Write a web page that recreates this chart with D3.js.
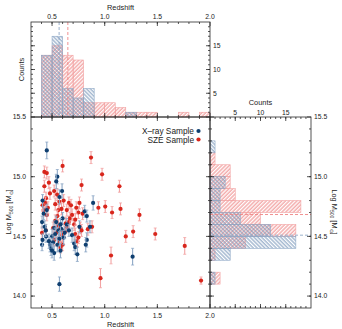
<!DOCTYPE html>
<html>
<head>
<meta charset="utf-8">
<script src="https://cdn.jsdelivr.net/npm/d3@7"></script>
<style>
  body { margin: 0; background: #fff; }
  text { font-family: "Liberation Sans", Arial, sans-serif; fill: #222; }
</style>
</head>
<body>
<svg id="chart" width="342" height="329"></svg>
<script>
// ---- data ----
// [redshift, log M500, error]
var xraySample = [
  [0.45,15.22,0.07],[0.55,15.00,0.06],[0.54,14.96,0.06],[0.595,14.88,0.06],[0.89,14.78,0.06],
  [0.45,14.72,0.05],[0.81,14.71,0.05],[0.83,14.67,0.05],[0.42,14.69,0.05],[0.405,14.62,0.05],
  [0.43,14.58,0.05],[0.60,14.65,0.05],[0.64,14.60,0.05],[0.52,14.57,0.06],[0.59,14.56,0.06],
  [0.443,14.50,0.05],[0.50,14.50,0.06],[0.61,14.49,0.06],[0.69,14.51,0.06],[0.83,14.47,0.06],
  [0.405,14.43,0.05],[0.48,14.43,0.06],[0.49,14.40,0.06],[0.55,14.43,0.06],[0.71,14.44,0.06],
  [0.72,14.41,0.06],[0.82,14.43,0.06],[0.74,14.35,0.06],[0.57,14.10,0.06],[1.265,14.33,0.07],
  [0.41,14.47,0.05],[0.62,14.53,0.05],[0.47,14.46,0.06],[0.51,14.45,0.06],[0.53,14.52,0.05],
  [0.56,14.55,0.05],[0.57,14.48,0.06],[0.58,14.38,0.06],[0.52,14.36,0.06],[0.50,14.38,0.06],
  [0.54,14.62,0.05],[0.58,14.60,0.05],[0.44,14.55,0.05],[0.76,14.58,0.05],[0.86,14.58,0.05],
  [0.66,14.55,0.05],[0.41,14.80,0.05],[0.57,14.83,0.06]
];
var szeSample = [
  [0.87,15.16,0.05],[0.60,15.09,0.05],[0.427,15.04,0.05],[0.45,15.03,0.05],[0.975,15.02,0.05],
  [0.427,14.92,0.05],[0.78,14.93,0.05],[1.14,14.92,0.05],[0.48,14.86,0.05],[0.443,14.82,0.05],
  [0.548,14.85,0.05],[0.437,14.78,0.05],[0.61,14.80,0.05],[0.66,14.78,0.05],[0.94,14.74,0.05],
  [1.005,14.75,0.05],[0.42,14.72,0.05],[0.56,14.72,0.05],[0.64,14.72,0.05],[0.75,14.70,0.05],
  [1.07,14.70,0.05],[1.33,14.68,0.05],[1.20,14.50,0.05],[1.27,14.54,0.05],[1.48,14.52,0.05],
  [1.06,14.34,0.07],[1.76,14.42,0.07],[1.915,14.13,0.03],[0.96,14.15,0.08],[0.405,14.53,0.05],
  [0.45,14.68,0.05],[0.58,14.56,0.05],[0.60,14.51,0.05],[0.63,14.61,0.05],[0.64,14.58,0.05],
  [0.66,14.62,0.05],[0.67,14.65,0.05],[0.69,14.68,0.05],[0.71,14.60,0.05],[0.72,14.64,0.05],
  [0.77,14.57,0.05],[0.79,14.69,0.05],[0.88,14.58,0.05],[0.60,14.43,0.05],[0.55,14.67,0.05],
  [0.47,14.95,0.05],[0.52,14.88,0.05],[0.41,14.76,0.05],[0.46,14.74,0.05],[0.53,14.77,0.05],
  [0.57,14.79,0.05],[0.59,14.73,0.05],[0.68,14.76,0.05],[0.73,14.74,0.05],[0.76,14.78,0.05],
  [1.15,14.73,0.05],[0.44,14.55,0.05],[0.51,14.57,0.05],[0.54,14.53,0.05],[0.56,14.59,0.05],
  [0.62,14.54,0.05],[0.72,14.52,0.05],[0.78,14.55,0.05],[0.84,14.56,0.05],[0.52,14.47,0.05],
  [0.57,14.45,0.05],[0.58,14.41,0.05],[0.74,14.46,0.05],[0.75,14.49,0.05],[0.53,14.63,0.05]
];

// redshift histogram, bins of 0.1 from 0.4
var zBinStart = 0.4, zBinWidth = 0.1;
var zCountsSZE  = [13,15,13,12,3,3,3,2,1,1,1,0,0,1,0,1];
var zCountsXray = [13,17,6,4,6,0,0,0,1,0,0,0,0,0,0,0];
// mass histogram, bins of 0.1 from 14.1
var mBinStart = 14.1, mBinWidth = 0.1;
var mCountsSZE  = [2,0,1,7,17,10,18,5,4,4,1,0];
var mCountsXray = [1,0,4,17,12,6,2,2,3,0,0,1];
// medians (dashed lines)
var medZXray = 0.567, medZSZE = 0.65;
var medMXray = 14.51, medMSZE = 14.683;

var zTicks = [0.5, 1.0, 1.5, 2.0];
var mTicks = [14.0, 14.5, 15.0, 15.5];
var countTicks = [5, 10, 15];

// ---- layout ----
var L = 31, R = 210, T = 117, B = 308, topY = 22, RR = 311;
var blue = "#0f3f70", blueLight = "#8ea8c6", blueHatch = "#7896ba";
var red = "#d8261c", redLight = "#f2a3a3", redHatch = "#ee8585";
var axisCol = "#2a2a2a";

var svg = d3.select("#chart");

var x = d3.scaleLinear().domain([0.3, 2.0]).range([L, R]);
var y = d3.scaleLinear().domain([13.9, 15.5]).range([B, T]);
var cTop = d3.scaleLinear().domain([0, 20]).range([T, topY]);
var cRight = d3.scaleLinear().domain([0, 20]).range([R, RR]);

// hatch patterns
var defs = svg.append("defs");
function hatch(id, col, angle) {
  var p = defs.append("pattern").attr("id", id)
    .attr("patternUnits", "userSpaceOnUse").attr("width", 2.7).attr("height", 2.7)
    .attr("patternTransform", "rotate(" + angle + ")");
  p.append("line").attr("x1", 1).attr("x2", 1).attr("y1", 0).attr("y2", 2.7)
    .attr("stroke", col).attr("stroke-width", 1);
}
hatch("hRed", redHatch, 45);
hatch("hBlue", blueHatch, -45);

// ---- top histogram ----
var gTop = svg.append("g");
function topBars(counts, pat, col) {
  gTop.selectAll(null).data(counts.map(function(c, i) { return {i: i, c: c}; }).filter(function(d) { return d.c > 0; }))
    .enter().append("rect")
    .attr("x", function(d) { return x(zBinStart + d.i * zBinWidth); })
    .attr("width", function(d) { return x(zBinStart + (d.i + 1) * zBinWidth) - x(zBinStart + d.i * zBinWidth); })
    .attr("y", function(d) { return cTop(d.c); })
    .attr("height", function(d) { return cTop(0) - cTop(d.c); })
    .attr("fill", "url(#" + pat + ")")
    .attr("stroke", col).attr("stroke-width", 0.6);
}
topBars(zCountsSZE, "hRed", redLight);
topBars(zCountsXray, "hBlue", blueLight);
gTop.append("line").attr("x1", x(medZXray)).attr("x2", x(medZXray)).attr("y1", topY).attr("y2", T)
  .attr("stroke", blueLight).attr("stroke-dasharray", "3,2").attr("stroke-width", 0.9);
gTop.append("line").attr("x1", x(medZSZE)).attr("x2", x(medZSZE)).attr("y1", topY).attr("y2", T)
  .attr("stroke", redHatch).attr("stroke-dasharray", "3,2").attr("stroke-width", 0.9);

// ---- right histogram ----
var gRight = svg.append("g");
function rightBars(counts, pat, col) {
  gRight.selectAll(null).data(counts.map(function(c, i) { return {i: i, c: c}; }).filter(function(d) { return d.c > 0; }))
    .enter().append("rect")
    .attr("y", function(d) { return y(mBinStart + (d.i + 1) * mBinWidth); })
    .attr("height", function(d) { return y(mBinStart + d.i * mBinWidth) - y(mBinStart + (d.i + 1) * mBinWidth); })
    .attr("x", cRight(0))
    .attr("width", function(d) { return cRight(d.c) - cRight(0); })
    .attr("fill", "url(#" + pat + ")")
    .attr("stroke", col).attr("stroke-width", 0.6);
}
rightBars(mCountsSZE, "hRed", redLight);
rightBars(mCountsXray, "hBlue", blueLight);
gRight.append("line").attr("y1", y(medMSZE)).attr("y2", y(medMSZE)).attr("x1", R).attr("x2", RR)
  .attr("stroke", redHatch).attr("stroke-dasharray", "3,2").attr("stroke-width", 0.9);
gRight.append("line").attr("y1", y(medMXray)).attr("y2", y(medMXray)).attr("x1", R).attr("x2", RR)
  .attr("stroke", blueLight).attr("stroke-dasharray", "3,2").attr("stroke-width", 0.9);

// ---- scatter ----
var gPts = svg.append("g");
function scatter(data, col, light) {
  var g = gPts.append("g");
  var e = g.selectAll(null).data(data).enter().append("g");
  e.append("line").attr("x1", function(d) { return x(d[0]); }).attr("x2", function(d) { return x(d[0]); })
    .attr("y1", function(d) { return y(d[1] - d[2]); }).attr("y2", function(d) { return y(d[1] + d[2]); })
    .attr("stroke", light).attr("stroke-width", 1.1);
  [1, -1].forEach(function(s) {
    e.append("line").attr("x1", function(d) { return x(d[0]) - 1.5; }).attr("x2", function(d) { return x(d[0]) + 1.5; })
      .attr("y1", function(d) { return y(d[1] + s * d[2]); }).attr("y2", function(d) { return y(d[1] + s * d[2]); })
      .attr("stroke", light).attr("stroke-width", 0.8);
  });
  e.append("circle").attr("cx", function(d) { return x(d[0]); }).attr("cy", function(d) { return y(d[1]); })
    .attr("r", 2.1).attr("fill", col);
}
scatter(szeSample, red, redLight);
scatter(xraySample, blue, blueLight);

// ---- frames & ticks ----
var gAx = svg.append("g").attr("stroke", axisCol).attr("stroke-width", 0.8).attr("fill", "none");
gAx.append("rect").attr("x", L).attr("y", topY).attr("width", R - L).attr("height", T - topY);
gAx.append("rect").attr("x", L).attr("y", T).attr("width", R - L).attr("height", B - T);
gAx.append("rect").attr("x", R).attr("y", T).attr("width", RR - R).attr("height", B - T);

// ticks along a horizontal edge (dir +1 down, -1 up)
function hTicks(sc, major, minor, yy, dir) {
  minor.forEach(function(v) {
    gAx.append("line").attr("x1", sc(v)).attr("x2", sc(v)).attr("y1", yy).attr("y2", yy + dir * 2);
  });
  major.forEach(function(v) {
    gAx.append("line").attr("x1", sc(v)).attr("x2", sc(v)).attr("y1", yy).attr("y2", yy + dir * 4);
  });
}
function vTicks(sc, major, minor, xx, dir) {
  minor.forEach(function(v) {
    gAx.append("line").attr("y1", sc(v)).attr("y2", sc(v)).attr("x1", xx).attr("x2", xx + dir * 2);
  });
  major.forEach(function(v) {
    gAx.append("line").attr("y1", sc(v)).attr("y2", sc(v)).attr("x1", xx).attr("x2", xx + dir * 4);
  });
}
var zMinor = d3.range(4, 20).map(function(v) { return v / 10; });
var mMinor = d3.range(140, 155).map(function(v) { return v / 10; });
var cMinor = d3.range(1, 20);
var cMajor = [5, 10, 15];

hTicks(x, zTicks, zMinor, topY, 1);
hTicks(x, zTicks, zMinor, T, -1);
hTicks(x, zTicks, zMinor, T, 1);
hTicks(x, zTicks, zMinor, B, -1);
vTicks(cTop, cMajor, cMinor, L, 1);
vTicks(cTop, cMajor, cMinor, R, -1);
vTicks(y, mTicks, mMinor, L, 1);
vTicks(y, mTicks, mMinor, R, -1);
vTicks(y, mTicks, mMinor, R, 1);
vTicks(y, mTicks, mMinor, RR, -1);
hTicks(cRight, cMajor, cMinor, T, 1);
hTicks(cRight, cMajor, cMinor, B, -1);

// ---- labels ----
var fs = 6.8;
var gTx = svg.append("g").attr("font-size", fs);
zTicks.forEach(function(v) {
  gTx.append("text").attr("x", x(v)).attr("y", 18.5).attr("text-anchor", "middle").text(v.toFixed(1));
  gTx.append("text").attr("x", x(v)).attr("y", 318).attr("text-anchor", "middle").text(v.toFixed(1));
});
countTicks.forEach(function(v) {
  gTx.append("text").attr("x", 213).attr("y", cTop(v) + 2.4).text(v);
  gTx.append("text").attr("x", cRight(v)).attr("y", 114.5).attr("text-anchor", "middle").text(v);
});
mTicks.forEach(function(v) {
  gTx.append("text").attr("x", 26).attr("y", y(v) + 2.4).attr("text-anchor", "end").text(v.toFixed(1));
  gTx.append("text").attr("x", 314).attr("y", y(v) + 2.4).text(v.toFixed(1));
});

var fsT = 7.4;
svg.append("text").attr("x", (L + R) / 2).attr("y", 9.5).attr("text-anchor", "middle").attr("font-size", fsT).text("Redshift");
svg.append("text").attr("x", (L + R) / 2).attr("y", 326.5).attr("text-anchor", "middle").attr("font-size", fsT).text("Redshift");
svg.append("text").attr("x", (R + RR) / 2).attr("y", 105).attr("text-anchor", "middle").attr("font-size", fsT).text("Counts");
svg.append("text").attr("transform", "translate(24," + ((topY + T) / 2) + ") rotate(-90)")
  .attr("text-anchor", "middle").attr("font-size", fsT).text("Counts");

function massTitle(tx, ty, rot) {
  var t = svg.append("text").attr("transform", "translate(" + tx + "," + ty + ") rotate(" + rot + ")")
    .attr("text-anchor", "middle").attr("font-size", fsT);
  t.append("tspan").text("Log M");
  t.append("tspan").attr("font-size", 5).attr("dy", 1.8).text("500");
  t.append("tspan").attr("dy", -1.8).text(" [M");
  t.append("tspan").attr("font-size", 5).attr("dy", 1.8).text("\u2299");
  t.append("tspan").attr("dy", -1.8).text("]");
}
massTitle(11, 212, -90);
massTitle(332, 212, 90);

// legend
var legend = [["X\u2013ray Sample", blue], ["SZE Sample", red]];
legend.forEach(function(d, i) {
  var ly = 131 + i * 8.5;
  svg.append("text").attr("x", 194).attr("y", ly + 3).attr("text-anchor", "end").attr("font-size", 8.3).text(d[0]);
  svg.append("circle").attr("cx", 198.5).attr("cy", ly).attr("r", 2.1).attr("fill", d[1]);
});
</script>
</body>
</html>
